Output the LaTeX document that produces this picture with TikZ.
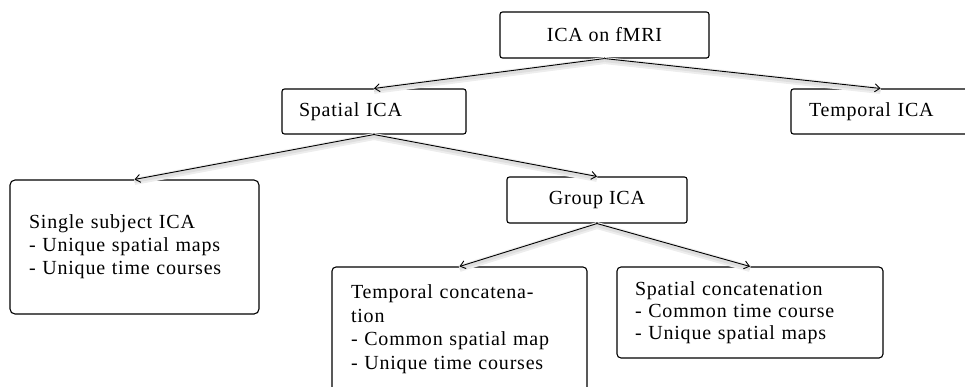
\documentclass[tikz,border=0pt]{standalone}
\usepackage{fontspec}
\setmainfont[LetterSpace=4]{Liberation Serif}
\usetikzlibrary{arrows.meta}
\begin{document}
\begin{tikzpicture}[x=1pt,y=-1pt,
  box/.style={draw=black, line width=1.1pt, rounded corners=2.5pt, inner ysep=0pt,
    font=\fontsize{20}{23}\selectfont},
  lbox/.style={box, align=left},
  cbox/.style={box, align=center},
  conn/.style={line width=0.9pt, -{Straight Barb[length=5pt,width=8pt]},
    preaction={draw=black!7, line width=7pt, arrows=-, transform canvas={yshift=-2pt}},
    preaction={draw=black!13, line width=3pt, arrows=-, transform canvas={yshift=-2pt}}}
]
\useasboundingbox (0,0) rectangle (965,386);
\clip (0,0) rectangle (965,386);

\node[cbox, minimum width=209pt, minimum height=46pt] (ica) at (604.5,35) {ICA on fMRI};
\node[lbox, text width=150pt, inner xsep=17pt, minimum height=45pt] (sica) at (374,111.5) {Spatial ICA};
\node[lbox, text width=143pt, inner xsep=18pt, minimum height=45pt] (tica) at (880.5,111.5) {Temporal ICA};
\node[cbox, minimum width=180pt, minimum height=46pt] (gica) at (597,200) {Group ICA};
\node[lbox, rounded corners=5pt, text width=211pt, inner xsep=19pt, minimum height=134pt] (single) at (134.5,247)
  {Single subject ICA\\- Unique spatial maps\\- Unique time courses\\[-4pt]};
\node[lbox, rounded corners=4pt, text width=217pt, inner xsep=19pt, minimum height=143.5pt,
  font=\fontsize{20}{23.5}\selectfont] (tcon) at (459.5,338.75)
  {Temporal concatena-\\tion\\- Common spatial map\\- Unique time courses\\\mbox{}};
\node[lbox, rounded corners=4pt, text width=230pt, inner xsep=18pt, minimum height=91pt,
  font=\fontsize{20}{22}\selectfont] (scon) at (750,312.5)
  {Spatial concatenation\\- Common time course\\- Unique spatial maps};

\draw[conn] (ica.south) -- (sica.north);
\draw[conn] (ica.south) -- (tica.north);
\draw[conn] (sica.south) -- (single.north);
\draw[conn] (sica.south) -- (gica.north);
\draw[conn] (gica.south) -- (tcon.north);
\draw[conn] (gica.south) -- (scon.north);
\end{tikzpicture}
\end{document}
